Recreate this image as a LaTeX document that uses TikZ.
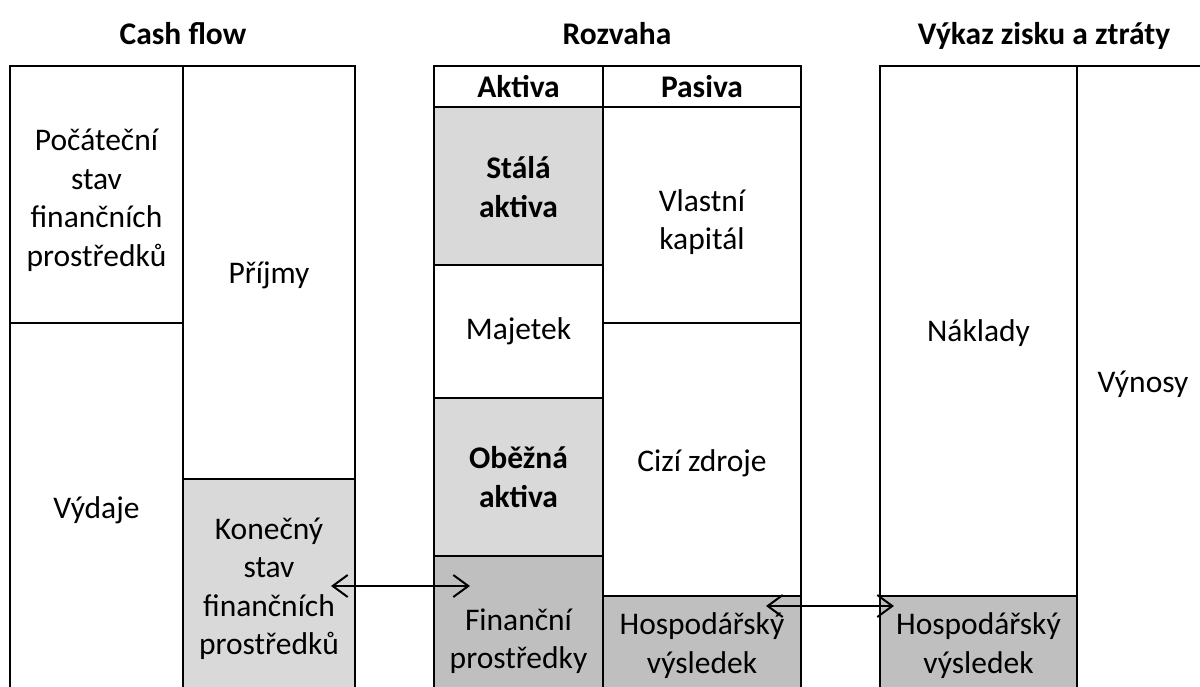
\documentclass[tikz,border=0pt]{standalone}
\usepackage{fontspec}
\setmainfont{Carlito}
\usetikzlibrary{arrows.meta}
\definecolor{lightfill}{HTML}{D9D9D9}
\definecolor{darkfill}{HTML}{BFBFBF}
\begin{document}
\begin{tikzpicture}[x=1pt,y=-1pt,
  every node/.style={font=\fontsize{31.5}{38.5}\selectfont},
  cell/.style={draw, line width=2pt, inner sep=0pt, align=center},
  light/.style={cell, fill=lightfill},
  dark/.style={cell, fill=darkfill},
  boldtext/.style={font=\fontsize{31.5}{38.5}\selectfont\bfseries},
  shifted/.style 2 args={label={[align=center, inner sep=0pt, yshift=-#1pt]center:#2}},
  heading/.style={font=\fontsize{31.5}{38.5}\selectfont\bfseries, anchor=base},
  conn/.style={line width=2pt, {Straight Barb[length=15pt,width=22pt]}-{Straight Barb[length=15pt,width=22pt]}}
]
\useasboundingbox (0,0) rectangle (1200,686);
\clip (0,0) rectangle (1200,686);

% titles
\node[heading] (tcf) at (183,44) {Cash flow};
\node[heading] (trz) at (617,44) {Rozvaha};
\node[heading] (tvz) at (1044,44) {Výkaz zisku a ztráty};

% Cash flow
\node[cell, minimum width=173pt, minimum height=257pt, shifted={6}{Počáteční\\stav\\finančních\\prostředků}] (poc) at (96.5,194.5) {};
\node[cell, minimum width=173pt, minimum height=366pt, shifted={4}{Výdaje}] (vyd) at (96.5,506) {};
\node[cell, minimum width=172pt, minimum height=413pt, shifted={3}{Příjmy}] (prij) at (269,272.5) {};
\node[light, minimum width=172pt, minimum height=214pt, shifted={3}{Konečný\\stav\\finančních\\prostředků}] (kon) at (269,586) {};

% Rozvaha
\node[cell, boldtext, minimum width=169pt, minimum height=41pt] (akt) at (518.5,86.5) {Aktiva};
\node[cell, boldtext, minimum width=198pt, minimum height=41pt] (pas) at (702,86.5) {Pasiva};
\node[light, minimum width=169pt, minimum height=158pt, shifted={1}{\bfseries Stálá\\\bfseries aktiva}] (sta) at (518.5,186) {};
\node[cell, minimum width=169pt, minimum height=133pt] (maj) at (518.5,331.5) {Majetek};
\node[light, boldtext, minimum width=169pt, minimum height=158pt] (obe) at (518.5,477) {Oběžná\\aktiva};
\node[dark, minimum width=169pt, minimum height=160pt, shifted={5}{Finanční\\prostředky}] (fin) at (518.5,636) {};
\node[cell, minimum width=198pt, minimum height=216pt, shifted={7}{Vlastní\\kapitál}] (vla) at (702,215) {};
\node[cell, minimum width=198pt, minimum height=273pt, shifted={4}{Cizí zdroje}] (ciz) at (702,459.5) {};
\node[dark, minimum width=198pt, minimum height=99pt] (hv1) at (702,645.5) {Hospodářský\\výsledek};

% Vykaz zisku a ztraty
\node[cell, minimum width=197pt, minimum height=530pt, shifted={2}{Náklady}] (nak) at (978.5,331) {};
\node[dark, minimum width=197pt, minimum height=99pt] (hv2) at (978.5,645.5) {Hospodářský\\výsledek};
\node[cell, minimum width=132pt, minimum height=632pt, shifted={2}{Výnosy}] (vyn) at (1143,382) {};

% connectors
\coordinate (a1s) at (331,586);
\coordinate (a1e) at (470,586);
\coordinate (a2s) at (766,606);
\coordinate (a2e) at (894,606);
\draw[conn] (a1s) -- (a1e);
\draw[conn] (a2s) -- (a2e);
\end{tikzpicture}
\end{document}
